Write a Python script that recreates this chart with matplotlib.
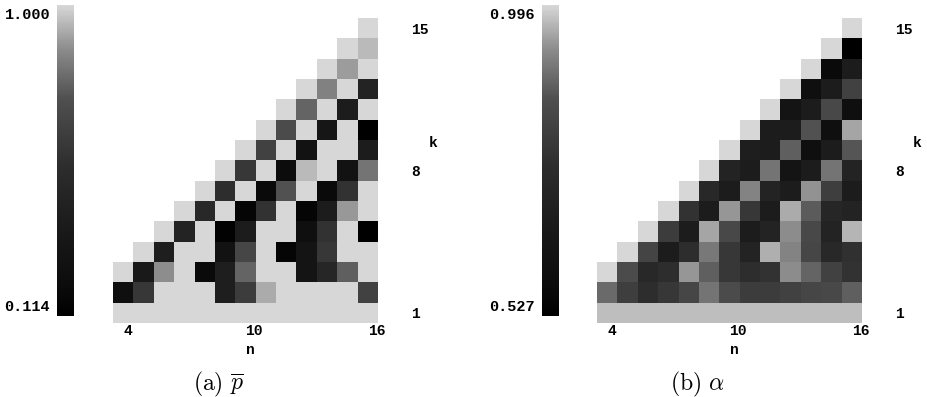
import numpy as np
import matplotlib
matplotlib.use("Agg")
import matplotlib.pyplot as plt
from matplotlib.colors import LinearSegmentedColormap

plt.rcParams['mathtext.fontset'] = 'cm'

# ---- data ----
n_values = list(range(4, 17))
k_values = list(range(1, 16))
n_ticks = [4, 10, 16]
k_ticks = [1, 8, 15]

# p-bar, one list per n (k = 1 .. n-1, bottom to top)
pbar_columns = [
    [1.000, 0.237, 1.000],
    [1.000, 0.595, 0.353, 1.000],
    [1.000, 1.000, 0.876, 0.400, 1.000],
    [1.000, 1.000, 1.000, 1.000, 0.446, 1.000],
    [1.000, 1.000, 0.188, 1.000, 1.000, 0.493, 1.000],
    [1.000, 0.400, 0.400, 0.272, 0.129, 1.000, 0.539, 1.000],
    [1.000, 0.623, 0.781, 0.678, 0.382, 0.151, 1.000, 0.595, 1.000],
    [1.000, 0.926, 1.000, 1.000, 1.000, 0.567, 0.188, 1.000, 0.651, 1.000],
    [1.000, 1.000, 1.000, 0.151, 1.000, 1.000, 0.734, 0.203, 1.000, 0.707, 1.000],
    [1.000, 1.000, 0.296, 0.296, 0.237, 0.151, 1.000, 0.950, 0.272, 1.000, 0.781, 1.000],
    [1.000, 1.000, 0.475, 0.595, 0.567, 0.382, 0.188, 1.000, 1.000, 0.319, 1.000, 0.848, 1.000],
    [1.000, 1.000, 0.770, 1.000, 1.000, 0.893, 0.567, 0.272, 1.000, 1.000, 0.382, 1.000, 0.901, 1.000],
    [1.000, 0.651, 1.000, 1.000, 0.114, 1.000, 1.000, 0.817, 0.382, 0.114, 1.000, 0.446, 1.000, 0.950, 1.000],
]

# alpha, one list per n (k = 1 .. n-1, bottom to top)
alpha_columns = [
    [0.974, 0.887, 0.996],
    [0.974, 0.802, 0.841, 0.996],
    [0.974, 0.752, 0.728, 0.820, 0.996],
    [0.974, 0.782, 0.752, 0.669, 0.796, 0.996],
    [0.974, 0.826, 0.939, 0.752, 0.669, 0.767, 0.996],
    [0.974, 0.899, 0.874, 0.905, 0.952, 0.669, 0.728, 0.996],
    [0.974, 0.841, 0.782, 0.782, 0.832, 0.939, 0.669, 0.703, 0.996],
    [0.974, 0.796, 0.752, 0.703, 0.669, 0.782, 0.918, 0.669, 0.678, 0.996],
    [0.974, 0.796, 0.767, 0.961, 0.703, 0.669, 0.703, 0.899, 0.669, 0.669, 0.996],
    [0.974, 0.811, 0.930, 0.918, 0.930, 0.957, 0.669, 0.623, 0.874, 0.669, 0.623, 0.996],
    [0.974, 0.826, 0.880, 0.826, 0.832, 0.868, 0.935, 0.669, 0.592, 0.855, 0.669, 0.592, 0.996],
    [0.974, 0.832, 0.811, 0.728, 0.703, 0.718, 0.802, 0.899, 0.669, 0.592, 0.832, 0.669, 0.566, 0.996],
    [0.974, 0.874, 0.767, 0.761, 0.966, 0.703, 0.669, 0.703, 0.861, 0.952, 0.592, 0.811, 0.669, 0.527, 0.996],
]

pbar_range = (0.114, 1.000)
alpha_range = (0.527, 0.996)

# ---- colormap: dark gray ramp ending in light gray ----
nodes = [(0.0, 0), (0.10, 12), (0.27, 25), (0.48, 45), (0.70, 80), (0.86, 140), (1.0, 215)]
cmap = LinearSegmentedColormap.from_list(
    "grayramp", [(t, (g / 255, g / 255, g / 255)) for t, g in nodes])
cmap.set_bad("white")


def to_grid(columns):
    grid = np.full((len(k_values), len(n_values)), np.nan)
    for j, col in enumerate(columns):
        grid[:len(col), j] = col
    return np.ma.masked_invalid(grid)


W, H = 928, 397
fig = plt.figure(figsize=(W / 100, H / 100), dpi=100)

mono = dict(family="Liberation Mono", fontweight="bold")


def fx(px):
    return px / W


def fy(py):
    return 1 - py / H


def panel(hx0, cbx0, columns, vrange, caption, cap_x):
    ax = fig.add_axes([fx(hx0), fy(323), 265 / W, 305 / H])
    cax = fig.add_axes([fx(cbx0), fy(316), 17 / W, 311 / H])
    xe = np.arange(n_values[0] - 0.5, n_values[-1] + 1.0, 1.0)
    ye = np.arange(k_values[0] - 0.5, k_values[-1] + 1.0, 1.0)
    mesh = ax.pcolormesh(xe, ye, to_grid(columns), cmap=cmap,
                         vmin=vrange[0], vmax=vrange[1], shading="flat")
    ax.set_xlim(xe[0], xe[-1])
    ax.set_ylim(ye[0], ye[-1])
    for s in ax.spines.values():
        s.set_visible(False)
    ax.set_xticks(n_ticks)
    ax.set_xticklabels([str(v) for v in n_ticks], ha="left", fontsize=10.5, **mono)
    ax.yaxis.tick_right()
    ax.set_yticks(k_ticks)
    ax.set_yticklabels([str(v) for v in k_ticks], ha="left", fontsize=10.5, **mono)
    ax.tick_params(axis="x", length=0, pad=1)
    ax.tick_params(axis="y", length=0, pad=24)
    ax.text(0.52, -0.088, "n", transform=ax.transAxes, ha="center", va="center",
            fontsize=10.5, **mono)
    ax.text(1.208, 0.59, "k", transform=ax.transAxes, ha="center", va="center",
            fontsize=10.5, **mono)

    cb = fig.colorbar(mesh, cax=cax)
    cb.outline.set_visible(False)
    cax.set_yticks([])
    cax.text(-0.40, 0.968, f"{vrange[1]:.3f}", transform=cax.transAxes,
             ha="right", va="center", fontsize=11, **mono)
    cax.text(-0.40, 0.029, f"{vrange[0]:.3f}", transform=cax.transAxes,
             ha="right", va="center", fontsize=11, **mono)

    fig.text(fx(cap_x), fy(384), caption, ha="center", va="center", fontsize=17)


panel(113, 57, pbar_columns, pbar_range, r"$\mathrm{(a)}\ \overline{p}$", 218)
panel(597, 542, alpha_columns, alpha_range, r"$\mathrm{(b)}\ \alpha$", 697)

fig.savefig("out.png", dpi=100)
